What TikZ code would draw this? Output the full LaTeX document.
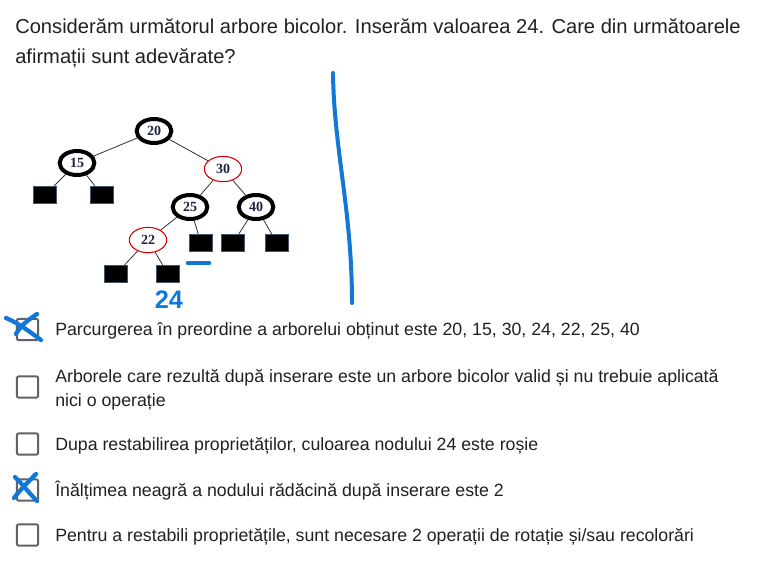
\documentclass[tikz,border=0pt]{standalone}
\usepackage{fontspec}
\setmainfont{Liberation Sans}
\newfontfamily\nodefont{Liberation Serif}
\usetikzlibrary{shapes.geometric}
\definecolor{pen}{RGB}{18,120,215}
\definecolor{txt}{RGB}{32,33,36}
\definecolor{boxgray}{RGB}{95,99,104}
\definecolor{leafedge}{RGB}{68,84,106}
\definecolor{lbl}{RGB}{30,35,60}
\begin{document}
\begin{tikzpicture}[x=0.75pt,y=-0.75pt,
  blacknode/.style={ellipse,draw=black,line width=3pt,fill=white,minimum width=26pt,minimum height=18pt,inner sep=0pt,font=\nodefont\bfseries\fontsize{10.5pt}{11pt}\selectfont,text=lbl},
  rednode/.style={ellipse,draw=red!85!black,line width=0.8pt,fill=white,minimum width=28pt,minimum height=19pt,inner sep=0pt,font=\nodefont\bfseries\fontsize{10.5pt}{11pt}\selectfont,text=lbl},
  leaf/.style={rectangle,fill=black,draw=leafedge,line width=0.7pt,minimum width=17pt,minimum height=13pt,inner sep=0pt},
  edge/.style={draw=black!80,line width=0.6pt},
  body/.style={anchor=base west,inner sep=0pt,text=txt,font=\fontsize{13.3pt}{15pt}\selectfont},
  title/.style={anchor=base west,inner sep=0pt,text=txt,font=\fontsize{15.1pt}{17pt}\selectfont},
  chk/.style={rectangle,draw=boxgray,line width=1.5pt,rounded corners=1.5pt,minimum width=16pt,minimum height=16pt,inner sep=0pt},
  pen/.style={draw=pen,line cap=round,line join=round}
]
\useasboundingbox (0,0) rectangle (767,572);
\fill[white] (0,0) rectangle (767,572);

% title
\node[title] (t1) at (15,33) {Considerăm următorul arbore bicolor. Inserăm valoarea 24. Care din următoarele};
\node[title] (t2) at (15,63) {afirmații sunt adevărate?};

% tree
\node[blacknode] (n20) at (154,131) {20};
\node[blacknode] (n15) at (77,163) {15};
\node[rednode] (n30) at (223,169) {30};
\node[blacknode] (n25) at (190,207) {25};
\node[blacknode] (n40) at (256,207) {40};
\node[rednode] (n22) at (148,240) {22};
\node[leaf] (l1) at (45,195) {};
\node[leaf] (l2) at (102,195) {};
\node[leaf] (l3) at (201,243) {};
\node[leaf] (l4) at (233,243) {};
\node[leaf] (l5) at (277,243) {};
\node[leaf] (l6) at (116,274) {};
\node[leaf] (l7) at (168,274) {};
\draw[edge] (n20) -- (n15);
\draw[edge] (n20) -- (n30);
\draw[edge] (n15) -- (l1);
\draw[edge] (n15) -- (l2);
\draw[edge] (n30) -- (n25);
\draw[edge] (n30) -- (n40);
\draw[edge] (n25) -- (n22);
\draw[edge] (n25) -- (l3);
\draw[edge] (n40) -- (l4);
\draw[edge] (n40) -- (l5);
\draw[edge] (n22) -- (l6);
\draw[edge] (n22) -- (l7);

% annotations
\coordinate (d1) at (188,263);
\coordinate (d2) at (209,263);
\draw[pen,line width=3.5pt] (d1) -- (d2);
\node[text=pen,font=\bfseries\fontsize{19pt}{19pt}\selectfont,inner sep=0pt] (n24) at (169,300) {24};
\coordinate (v1) at (333,73);
\coordinate (v2) at (352,303);
\draw[pen,line width=3pt] (v1) .. controls (334,150) and (352,210) .. (v2);

% options
\node[chk] (c1) at (27.5,329.5) {};
\node[chk] (c2) at (27.5,387) {};
\node[chk] (c3) at (27.5,444) {};
\node[chk] (c4) at (27.5,490) {};
\node[chk] (c5) at (27.5,535) {};

\node[body] (o1) at (55,335) {Parcurgerea în preordine a arborelui obținut este 20, 15, 30, 24, 22, 25, 40};
\node[body] (o2a) at (55,382) {Arborele care rezultă după inserare este un arbore bicolor valid și nu trebuie aplicată};
\node[body] (o2b) at (55,406) {nici o operație};
\node[body] (o3) at (55,450) {Dupa restabilirea proprietăților, culoarea nodului 24 este roșie};
\node[body] (o4) at (55,496) {Înălțimea neagră a nodului rădăcină după inserare este 2};
\node[body] (o5) at (55,541) {Pentru a restabili proprietățile, sunt necesare 2 operații de rotație și/sau recolorări};

% crosses
\coordinate (x1a) at (6,318);
\coordinate (x1b) at (41,340);
\coordinate (x1c) at (37,314);
\coordinate (x1d) at (16,334);
\draw[pen,line width=3.2pt] (x1a) .. controls (20,324) and (30,332) .. (x1b);
\draw[pen,line width=3.2pt] (x1c) .. controls (28,320) and (20,326) .. (x1d);
\coordinate (x4a) at (15,477);
\coordinate (x4b) at (37,501);
\coordinate (x4c) at (36,474);
\coordinate (x4d) at (14,498);
\draw[pen,line width=3.2pt] (x4a) .. controls (24,486) and (30,494) .. (x4b);
\draw[pen,line width=3.2pt] (x4c) .. controls (28,482) and (20,490) .. (x4d);
\end{tikzpicture}
\end{document}
